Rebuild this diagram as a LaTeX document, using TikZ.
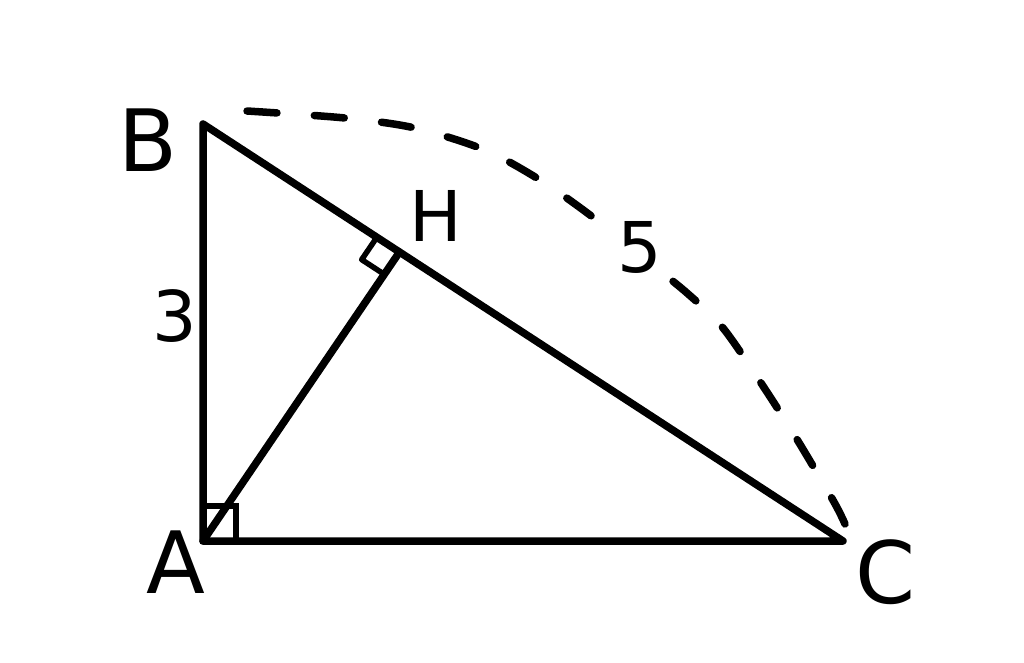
\documentclass[tikz,border=0pt]{standalone}
\usepackage{fontspec}
\setmainfont{DejaVu Sans}
\usetikzlibrary{calc}
\begin{document}
\begin{tikzpicture}[x=1pt,y=-1pt,
  edge/.style={line width=7.5pt, line cap=round, line join=round},
  anglemark/.style={line width=5.5pt},
  arcline/.style={line width=7.5pt, line cap=round, dash pattern=on 30pt off 37.5pt},
  biglbl/.style={font=\fontsize{86}{96}\selectfont, inner sep=0pt},
  smalllbl/.style={font=\fontsize{70}{80}\selectfont, inner sep=0pt}]
\useasboundingbox (0,0) rectangle (1024,662);
\fill[white] (0,0) rectangle (1024,662);
\coordinate (A) at (203,541);
\coordinate (B) at (203,124);
\coordinate (C) at (843,541);
\coordinate (H) at ($(B)!0.307!(C)$);
% triangle and altitude
\draw[edge] (B) -- (A) -- (C) -- cycle;
\draw[edge] (A) -- (H);
% right angle marks
\draw[anglemark] (A) rectangle ++(33,-35);
\coordinate (H1) at ($(H)!27pt!(B)$);
\coordinate (H3) at ($(H)!27pt!(A)$);
\coordinate (H2) at ($(H1)+(H3)-(H)$);
\draw[anglemark, line join=round] (H1) -- (H2) -- (H3);
% dashed arc
\draw[arcline] plot[smooth] coordinates {(247,111) (345,118) (415,128) (485,150) (540,180) (590,215) (640,255) (687,293) (723,328) (763,386) (798,441) (834,502) (845,524)};
% labels
\node[biglbl] (lB) at (148,140) {B};
\node[smalllbl] (lH) at (436,216) {H};
\node[smalllbl] (l3) at (175,316) {3};
\node[smalllbl, fill=white, inner sep=4pt] (l5) at (640,247) {5};
\node[biglbl] (lA) at (176,562) {A};
\node[biglbl] (lC) at (886,572) {C};
\end{tikzpicture}
\end{document}
